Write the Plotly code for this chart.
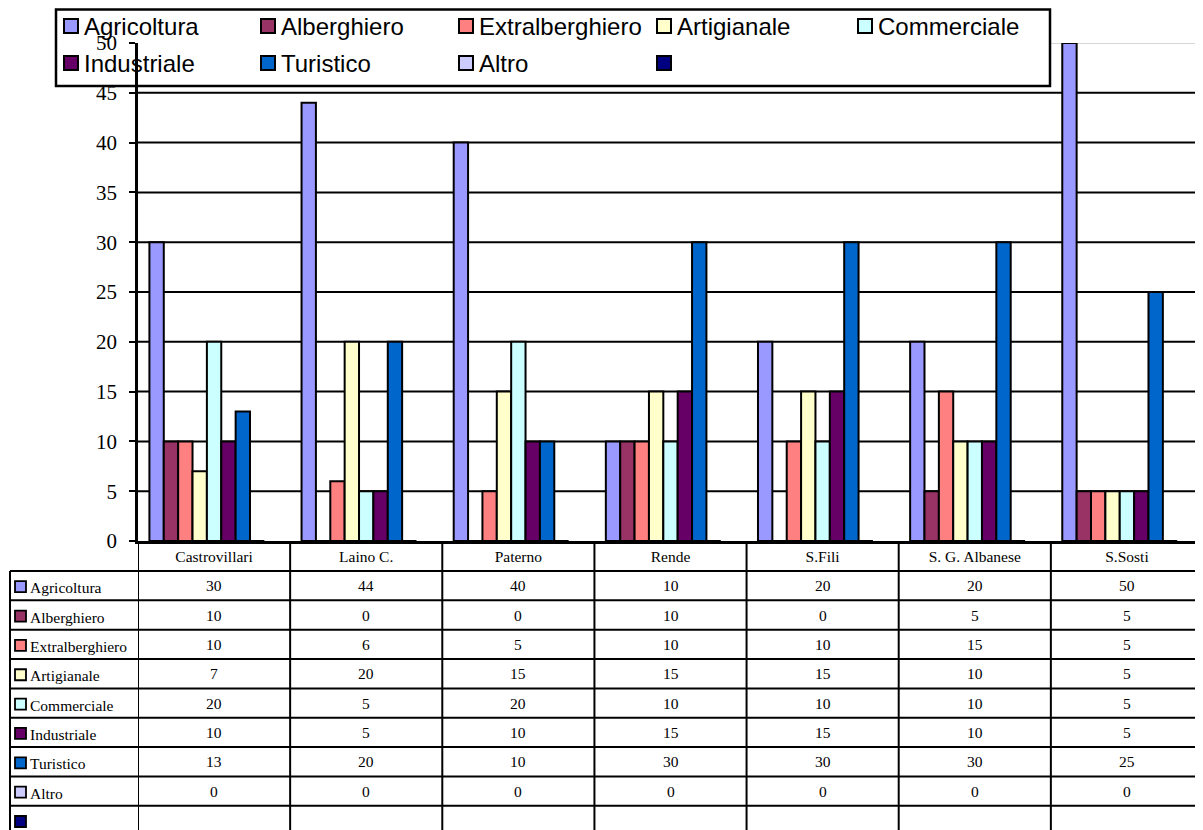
import plotly.graph_objects as go

categories = ["Castrovillari", "Laino C.", "Paterno", "Rende", "S.Fili", "S. G. Albanese", "S.Sosti"]
series_names = ["Agricoltura", "Alberghiero", "Extralberghiero", "Artigianale",
                "Commerciale", "Industriale", "Turistico", "Altro", ""]
agricoltura = [30, 44, 40, 10, 20, 20, 50]
alberghiero = [10, 0, 0, 10, 0, 5, 5]
extralberghiero = [10, 6, 5, 10, 10, 15, 5]
artigianale = [7, 20, 15, 15, 15, 10, 5]
commerciale = [20, 5, 20, 10, 10, 10, 5]
industriale = [10, 5, 10, 15, 15, 10, 5]
turistico = [13, 20, 10, 30, 30, 30, 25]
altro = [0, 0, 0, 0, 0, 0, 0]
vuoto = [None] * 7
y_ticks = [0, 5, 10, 15, 20, 25, 30, 35, 40, 45, 50]

series_values = [agricoltura, alberghiero, extralberghiero, artigianale,
                 commerciale, industriale, turistico, altro, vuoto]
colors = ["#9999FF", "#993366", "#FF8080", "#FFFFCC", "#CCFFFF",
          "#660066", "#0066CC", "#CCCCFF", "#000080"]

W, H = 1203, 830
OFF = 8  # page body margin: the figure div starts 8px in from the window corner


def PX(x):
    return (x - OFF) / W


def PY(y):
    return 1 - (y - OFF) / H


SERIF = "Liberation Serif, Times New Roman, serif"
SANS = "Liberation Sans, Arial, sans-serif"

fig = go.Figure()
for name, vals, col in zip(series_names, series_values, colors):
    fig.add_trace(go.Bar(
        x=categories, y=vals, name=name, showlegend=False,
        marker=dict(color=col, line=dict(color="black", width=2)),
        hoverinfo="skip"))

shapes = []
annotations = []

# gridlines (drawn below everything)
for t in y_ticks[1:]:
    shapes.append(dict(type="line", xref="paper", yref="y",
                       x0=PX(138), x1=PX(1210), y0=t, y1=t, layer="below",
                       line=dict(color="#c8c8c8" if t == 50 else "black",
                                 width=1.5 if t == 50 else 2)))

# legend box
shapes.append(dict(type="rect", xref="paper", yref="paper",
                   x0=PX(56), x1=PX(1050), y0=PY(86), y1=PY(9.5), layer="below",
                   fillcolor="white", line=dict(color="black", width=2.5)))
leg_x = [64, 261, 459, 657, 858]
leg_y = [26, 63]
for i, (name, col) in enumerate(zip(series_names, colors)):
    kx = leg_x[i % 5]
    ky = leg_y[i // 5]
    shapes.append(dict(type="rect", xref="paper", yref="paper",
                       x0=PX(kx), x1=PX(kx + 14), y0=PY(ky + 7), y1=PY(ky - 7),
                       layer="below", fillcolor=col, line=dict(color="black", width=2)))
    if name:
        annotations.append(dict(xref="paper", yref="paper", x=PX(kx + 18), y=PY(ky),
                                text=name, showarrow=False, xanchor="left", yanchor="middle",
                                font=dict(family=SANS, size=24, color="black")))

# data table
row_top = 571
row_h = 29.35
n_rows = len(series_names)
row_lines = [row_top + i * row_h for i in range(n_rows)]
for y in row_lines:
    shapes.append(dict(type="line", xref="paper", yref="paper",
                       x0=PX(10), x1=PX(1210), y0=PY(y), y1=PY(y), layer="below",
                       line=dict(color="black", width=2)))
shapes.append(dict(type="line", xref="paper", yref="paper",
                   x0=PX(10), x1=PX(10), y0=PY(row_top), y1=PY(840), layer="below",
                   line=dict(color="black", width=2)))
for i in range(len(categories) + 1):
    shapes.append(dict(type="line", xref="x", yref="paper",
                       x0=i - 0.5, x1=i - 0.5, y0=PY(541), y1=PY(840), layer="below",
                       line=dict(color="black", width=2)))

for r, (name, vals, col) in enumerate(zip(series_names, series_values, colors)):
    cy = row_top + r * row_h + row_h / 2
    shapes.append(dict(type="rect", xref="paper", yref="paper",
                       x0=PX(15), x1=PX(26), y0=PY(cy + 6.5), y1=PY(cy - 4.5),
                       layer="below", fillcolor=col, line=dict(color="black", width=1.8)))
    if name:
        annotations.append(dict(xref="paper", yref="paper", x=PX(28), y=PY(cy + 2),
                                text=name, showarrow=False, xanchor="left", yanchor="middle",
                                font=dict(family=SERIF, size=15.5, color="black")))
    for c, v in enumerate(vals):
        if v is None:
            continue
        annotations.append(dict(xref="x", yref="paper", x=c, y=PY(cy),
                                text=str(v), showarrow=False, xanchor="center",
                                yanchor="middle",
                                font=dict(family=SERIF, size=15.5, color="black")))

fig.update_layout(
    width=W, height=H,
    margin=dict(l=0, r=0, t=0, b=0, autoexpand=False),
    paper_bgcolor="white", plot_bgcolor="rgba(0,0,0,0)",
    barmode="group", bargap=0.15, bargroupgap=0,
    shapes=shapes, annotations=annotations,
    xaxis=dict(domain=[PX(138), PX(1203)], range=[-0.5, 6.5], showgrid=False,
               showline=True, linecolor="black", linewidth=2.5, ticks="",
               tickfont=dict(family=SERIF, size=15.5, color="black"),
               ticklabelstandoff=0, zeroline=False, fixedrange=True, automargin=False),
    yaxis=dict(domain=[PY(541), PY(43)], range=[0, 50], tickvals=y_ticks,
               showgrid=False, zeroline=False, showline=True, linecolor="black",
               linewidth=2.5, ticks="outside", ticklen=6, tickwidth=2, tickcolor="black",
               tickfont=dict(family=SERIF, size=21, color="black"),
               ticklabelstandoff=8, fixedrange=True, automargin=False),
    showlegend=False,
)

fig.write_html("out.html")
